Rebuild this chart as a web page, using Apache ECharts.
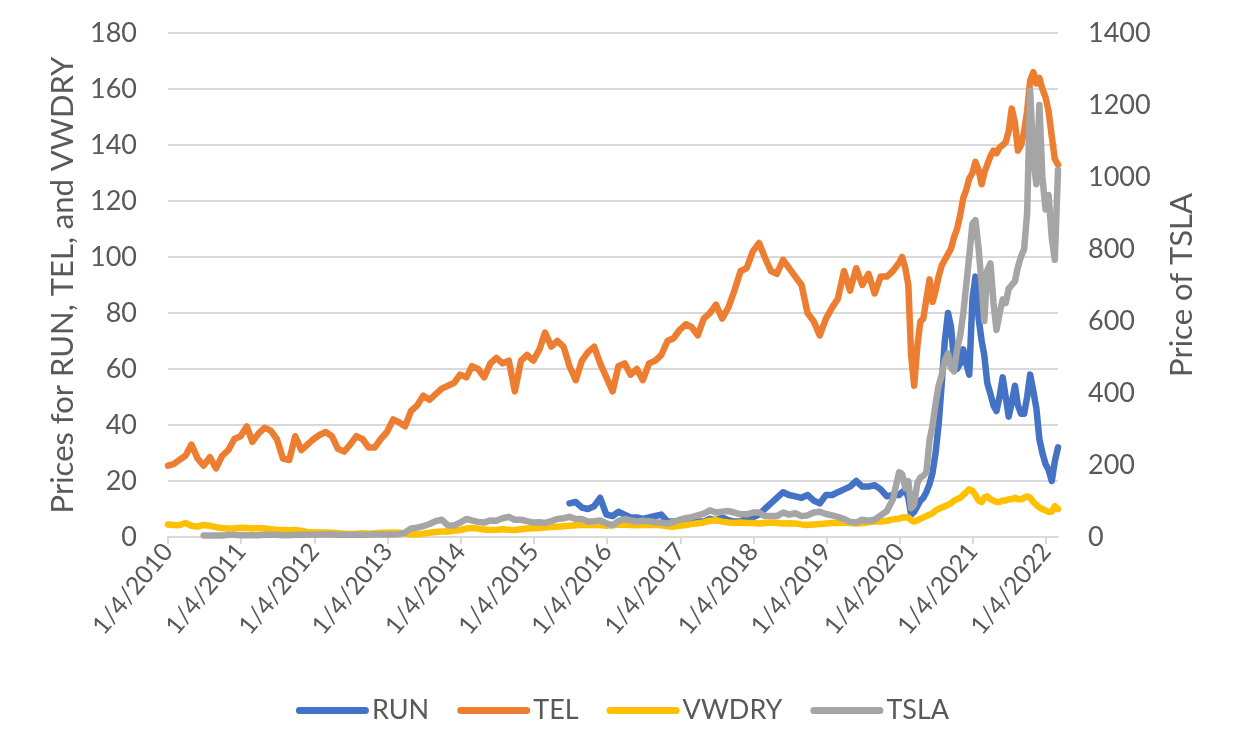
<!DOCTYPE html>
<html>
<head>
<meta charset="utf-8">
<script src="https://cdn.jsdelivr.net/npm/echarts@6/dist/echarts.min.js"></script>
<style>html,body{margin:0;padding:0;background:#fff}#c{width:1245px;height:755px}</style>
</head>
<body>
<div id="c"></div>
<script>
// Sample dates: monthly 2010-2019, twice a month 2020 - Feb 2022, last point early Mar 2022
const dates = ['2010-01-04'];
for (let y = 2010; y <= 2019; y++) {
  for (let m = 1; m <= 12; m++) {
    if (y === 2010 && m === 1) continue;
    dates.push(y + '-' + String(m).padStart(2, '0') + '-01');
  }
}
for (let y = 2020; y <= 2022; y++) {
  for (let m = 1; m <= 12; m++) {
    if (y === 2022 && m > 2) break;
    const mm = String(m).padStart(2, '0');
    dates.push(y + '-' + mm + '-01');
    dates.push(y + '-' + mm + '-16');
  }
}
dates.push('2022-03-04');

const seriesNames = ['RUN', 'TEL', 'VWDRY', 'TSLA'];
const leftTicks = [0, 20, 40, 60, 80, 100, 120, 140, 160, 180];
const rightTicks = [0, 200, 400, 600, 800, 1000, 1200, 1400];

const TEL = [
  25.5, 26, 27.5, 29, 33, 28, 25.5, 28.5, 24.5, 29, 31, 35,
  36, 39.5, 34, 37, 39, 38, 35, 28, 27.5, 36, 31, 33,
  35, 36.5, 37.5, 36, 31.5, 30.5, 33, 36, 35, 32, 32, 35,
  37.5, 42, 41, 39.5, 45, 47, 50.5, 49, 51, 53, 54, 55,
  58, 57, 61, 60, 57, 62, 64, 62, 63, 52, 63, 65,
  63, 67, 73, 68, 70, 68, 61, 56, 63, 66, 68, 62,
  57, 52, 61, 62, 58, 60, 56, 62, 63, 65, 70, 71,
  74, 76, 75, 72, 78, 80, 83, 78, 82, 88, 95, 96,
  102, 105, 100, 95, 94, 99, 96, 93, 90, 80, 77, 72,
  78, 82, 85, 95, 88, 96, 90, 94, 87, 93, 93, 95,
  98, 100, 96, 90, 65, 54, 68, 77, 78, 85, 92, 84, 88, 93, 97, 99, 101, 103, 107, 110, 115, 121, 124, 128,
  130, 134, 131, 126, 130, 133, 136, 138, 137, 139, 140, 141, 145, 153, 148, 138, 140, 145, 152, 163, 166, 162, 164, 160,
  157, 152, 143, 135, 133
];

const RUN = Array(66).fill(null).concat([
  12, 12.5, 10.5, 10, 11, 14,
  8, 7.5, 9, 8, 7, 7, 6.5, 7, 7.5, 8, 5.5, 5.5,
  5.5, 5.5, 5, 5.5, 5.5, 6.5, 6, 7, 6, 5.5, 5.5, 7,
  7, 8, 10, 12, 14, 16, 15, 14.5, 14, 15, 13, 12,
  15, 15, 16, 17, 18, 20, 18, 18, 18.5, 17, 14.5, 15,
  15, 16, 17, 14, 8, 9, 11, 13, 14, 16, 19, 23, 30, 40, 55, 70, 80, 75, 63, 60, 62, 67, 62, 58,
  85, 93, 78, 70, 65, 55, 51, 47, 45, 50, 57, 50, 43, 48, 54, 47, 44, 44, 50, 58, 52, 46, 35, 30,
  26, 24, 20, 27, 32
]);

const VWDRY = [
  4.5, 4.3, 4.2, 5, 4, 3.7, 4.3, 4, 3.5, 3.2, 3.0, 3.1,
  3.3, 3.2, 3.0, 3.2, 3.0, 2.8, 2.6, 2.5, 2.4, 2.5, 2.2, 1.8,
  1.7, 1.6, 1.6, 1.5, 1.3, 1.2, 1.1, 1.2, 1.3, 1.2, 1.3, 1.5,
  1.5, 1.6, 1.5, 1.2, 1.0, 1.0, 1.2, 1.5, 1.8, 2.0, 2.0, 2.2,
  2.5, 3.0, 3.2, 3.0, 2.7, 2.5, 2.6, 2.8, 2.6, 2.5, 2.8, 3.0,
  3.1, 3.2, 3.4, 3.6, 3.7, 3.8, 4.0, 4.2, 4.3, 4.4, 4.3, 4.3,
  4.0, 4.2, 4.4, 4.4, 4.3, 4.2, 4.3, 4.4, 4.3, 4.2, 3.8, 3.7,
  4.0, 4.3, 4.6, 4.9, 5.2, 5.8, 6.0, 5.5, 5.2, 5.0, 5.2, 5.0,
  5.0, 4.8, 5.0, 5.2, 5.0, 4.8, 4.9, 4.8, 4.5, 4.3, 4.5, 4.6,
  4.8, 5.0, 5.0, 5.2, 5.0, 4.8, 5.0, 5.3, 5.5, 5.5, 5.8, 6.3,
  6.5, 7, 7, 7, 6, 5.5, 6, 6.5, 7, 7.5, 8, 8.5, 9.5, 10, 10.5, 11, 11.5, 12, 13, 13.5, 14, 15, 16, 17,
  16.5, 15, 13, 12.5, 14, 14.5, 13.5, 13, 12.5, 12.5, 13, 13, 13.5, 13.5, 14, 13.5, 13.5, 14, 14.5, 14, 12.5, 11.5, 10.5, 10,
  9.5, 9, 9, 11, 10
];

const TSLA = Array(6).fill(null).concat([
  4, 4, 4, 4, 6, 6,
  5, 5, 5, 5, 6, 6, 6, 5, 5, 6, 6, 6,
  6, 7, 7, 7, 6, 6, 6, 6, 6, 6, 7, 7,
  7, 7, 8, 12, 24, 26, 30, 36, 44, 48, 32, 32,
  40, 50, 46, 42, 40, 46, 45, 52, 56, 48, 48, 44,
  40, 41, 39, 44, 50, 52, 56, 50, 50, 43, 44, 46,
  38, 33, 44, 50, 46, 43, 45, 44, 41, 40, 37, 42,
  48, 52, 55, 60, 65, 74, 68, 70, 72, 68, 63, 63,
  68, 68, 58, 58, 58, 68, 62, 66, 58, 60, 68, 70,
  64, 60, 56, 50, 42, 40, 48, 45, 48, 60, 72, 105,
  180, 175, 135, 155, 80, 90, 150, 165, 170, 180, 270, 310, 370, 420, 450, 490, 510, 470, 460, 520, 560, 620, 700, 780,
  870, 880, 800, 700, 600, 740, 760, 650, 575, 620, 660, 650, 690, 700, 710, 750, 780, 800, 900, 1240, 1050, 980, 1200, 1000,
  910, 950, 830, 770, 1020
]);

const colors = { RUN: '#4472C4', TEL: '#ED7D31', VWDRY: '#FFC000', TSLA: '#A5A5A5' };
const values = { RUN: RUN, TEL: TEL, VWDRY: VWDRY, TSLA: TSLA };
const axisIndex = { RUN: 0, TEL: 0, VWDRY: 0, TSLA: 1 };

const times = dates.map(d => Date.parse(d));
const DAY = 86400000;
const FONT = 'Lato';
const TXT = '#595959';

function fmtDate(v) {
  const d = new Date(Math.floor(v / DAY + 0.3) * DAY);
  return (d.getUTCMonth() + 1) + '/' + d.getUTCDate() + '/' + d.getUTCFullYear();
}

const chart = echarts.init(document.getElementById('c'), null, { renderer: 'canvas' });
chart.setOption({
  backgroundColor: '#ffffff',
  animation: false,
  textStyle: { fontFamily: FONT },
  grid: { left: 168, right: 187, top: 33, bottom: 218, containLabel: false, outerBoundsMode: 'none' },
  legend: {
    data: seriesNames,
    bottom: 26,
    left: 'center',
    itemWidth: 73,
    itemHeight: 7,
    itemGap: 28,
    icon: 'path://M3.5,0H69.5A3.5,3.5,0,0,1,69.5,7H3.5A3.5,3.5,0,0,1,3.5,0Z',
    textStyle: { fontFamily: FONT, fontSize: 27, color: TXT, padding: [0, 0, 0, -2] }
  },
  xAxis: {
    type: 'value',
    min: times[0],
    max: times[times.length - 1],
    interval: 365.25 * DAY,
    axisLine: { show: true, onZero: false, lineStyle: { color: '#d9d9d9', width: 2 } },
    axisTick: { show: true, length: 7, lineStyle: { color: '#d9d9d9', width: 2 } },
    splitLine: { show: false },
    axisLabel: {
      rotate: 50,
      margin: 10,
      fontSize: 25,
      fontFamily: FONT,
      color: TXT,
      showMaxLabel: false,
      formatter: fmtDate
    }
  },
  yAxis: [
    {
      type: 'value',
      min: leftTicks[0],
      max: leftTicks[leftTicks.length - 1],
      interval: leftTicks[1] - leftTicks[0],
      name: 'Prices for RUN, TEL, and VWDRY',
      nameLocation: 'middle',
      nameGap: 90,
      nameRotate: 90,
      nameTextStyle: { fontFamily: FONT, fontSize: 31, color: TXT },
      axisLine: { show: false },
      axisTick: { show: false },
      splitLine: { show: true, lineStyle: { color: '#d9d9d9', width: 2 } },
      axisLabel: { fontSize: 27, fontFamily: FONT, color: TXT, margin: 31 }
    },
    {
      type: 'value',
      min: rightTicks[0],
      max: rightTicks[rightTicks.length - 1],
      interval: rightTicks[1] - rightTicks[0],
      name: 'Price of TSLA',
      nameLocation: 'middle',
      nameGap: 108,
      nameRotate: 90,
      nameTextStyle: { fontFamily: FONT, fontSize: 31, color: TXT },
      axisLine: { show: false },
      axisTick: { show: false },
      splitLine: { show: false },
      axisLabel: { fontSize: 27, fontFamily: FONT, color: TXT, margin: 30, formatter: v => String(v) }
    }
  ],
  series: seriesNames.map(n => ({
    name: n,
    type: 'line',
    yAxisIndex: axisIndex[n],
    data: times.map((t, i) => [t, values[n][i]]),
    showSymbol: false,
    symbol: 'none',
    connectNulls: false,
    itemStyle: { color: colors[n] },
    lineStyle: { color: colors[n], width: 6.5, cap: 'round', join: 'round' },
    emphasis: { disabled: true }
  }))
});
</script>
</body>
</html>
